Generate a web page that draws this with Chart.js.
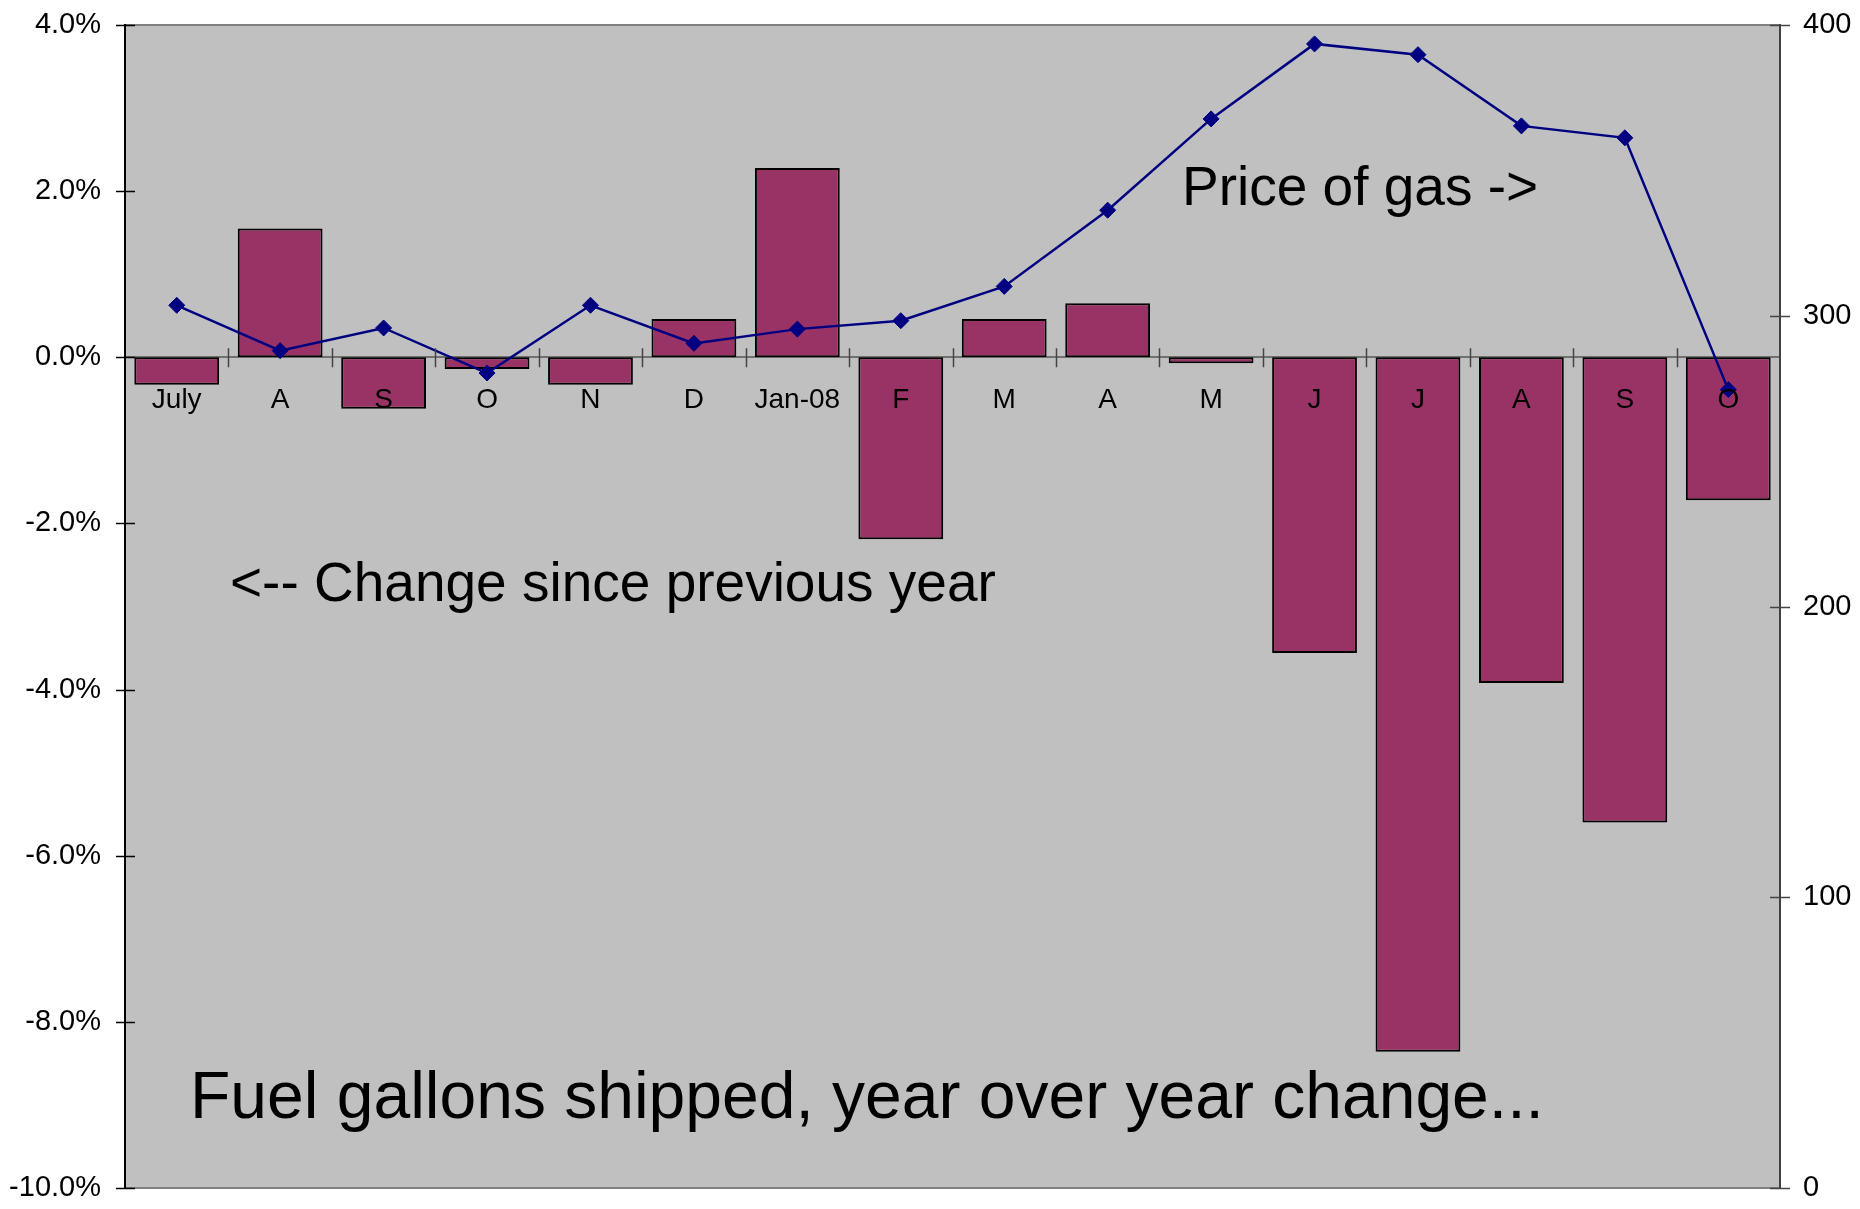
<!DOCTYPE html>
<html>
<head>
<meta charset="utf-8">
<script src="https://cdn.jsdelivr.net/npm/chart.js@4.4.1/dist/chart.umd.min.js"></script>
<style>
  html, body { margin: 0; padding: 0; background: #fff; }
</style>
</head>
<body>
<canvas id="chart" width="1860" height="1209"></canvas>
<script>
const months = ['July', 'A', 'S', 'O', 'N', 'D', 'Jan-08', 'F', 'M', 'A', 'M', 'J', 'J', 'A', 'S', 'O'];
const shipChange = [-0.33, 1.55, -0.62, -0.14, -0.33, 0.46, 2.28, -2.19, 0.46, 0.65, -0.06, -3.56, -8.36, -3.92, -5.6, -1.72];
const gasPrice = [303.6, 288, 295.8, 280.3, 303.6, 290.5, 295.4, 298.3, 310.1, 336.3, 367.7, 393.5, 389.8, 365.3, 361.2, 274.6];
const pctRange = [-10, 4, 2];     // min, max, step
const priceRange = [0, 400, 100];

const notes = [
  { text: 'Price of gas ->', x: 1182, y: 205, size: 55 },
  { text: '<-- Change since previous year', x: 230, y: 601, size: 55 },
  { text: 'Fuel gallons shipped, year over year change...', x: 190, y: 1118, size: 66 },
];

const FONT = '"Liberation Sans", Arial, Helvetica, sans-serif';

// grey plot area + top/bottom frame, drawn before the scales
const plotBg = {
  id: 'plotBg',
  beforeDraw(chart) {
    const { ctx, chartArea: a } = chart;
    ctx.save();
    ctx.fillStyle = '#c0c0c0';
    ctx.fillRect(a.left, a.top, a.right - a.left, a.bottom - a.top);
    ctx.strokeStyle = '#808080';
    ctx.lineWidth = 2;
    ctx.beginPath();
    ctx.moveTo(a.left, a.top); ctx.lineTo(a.right, a.top);
    ctx.moveTo(a.left, a.bottom); ctx.lineTo(a.right, a.bottom);
    ctx.stroke();
    ctx.restore();
  }
};

// tick marks that cross the axis lines, like the old spreadsheet charts
const crossTicks = {
  id: 'crossTicks',
  afterDraw(chart) {
    const { ctx, chartArea: a, scales } = chart;
    const y = scales.y, y1 = scales.y1, x = scales.x;
    ctx.save();
    ctx.lineWidth = 1.5;
    ctx.strokeStyle = '#000';
    ctx.beginPath();
    y.ticks.forEach(t => {
      const py = Math.round(y.getPixelForValue(t.value)) + 0.5;
      ctx.moveTo(a.left - 9, py); ctx.lineTo(a.left + 10, py);
    });
    ctx.stroke();
    ctx.strokeStyle = '#444';
    ctx.beginPath();
    y1.ticks.forEach(t => {
      const py = Math.round(y1.getPixelForValue(t.value)) + 0.5;
      ctx.moveTo(a.right - 10, py); ctx.lineTo(a.right + 10, py);
    });
    const y0 = y.getPixelForValue(0);
    for (let i = 1; i < months.length; i++) {
      const px = Math.round((x.getPixelForValue(i - 1) + x.getPixelForValue(i)) / 2) + 0.5;
      ctx.moveTo(px, y0 - 9); ctx.lineTo(px, y0 + 10);
    }
    ctx.stroke();
    ctx.restore();
  }
};

const textNotes = {
  id: 'textNotes',
  afterDatasetsDraw(chart) {
    const ctx = chart.ctx;
    ctx.save();
    ctx.fillStyle = '#000';
    ctx.textBaseline = 'alphabetic';
    ctx.textAlign = 'left';
    notes.forEach(n => {
      ctx.font = n.size + 'px ' + FONT;
      ctx.fillText(n.text, n.x, n.y);
    });
    ctx.restore();
  }
};

function noLabelPadding(s) {
  s.paddingTop = 0;
  s.paddingBottom = 0;
}

new Chart(document.getElementById('chart'), {
  data: {
    labels: months,
    datasets: [
      {
        type: 'line',
        label: 'Price of gas',
        data: gasPrice,
        yAxisID: 'y1',
        borderColor: '#000080',
        backgroundColor: '#000080',
        borderWidth: 2.5,
        pointStyle: 'rectRot',
        pointRadius: 8,
        pointBorderWidth: 1,
        tension: 0,
        order: 0
      },
      {
        type: 'bar',
        label: 'Change since previous year',
        data: shipChange,
        yAxisID: 'y',
        backgroundColor: '#993366',
        borderColor: '#000',
        borderWidth: 2,
        borderSkipped: false,
        minBarLength: 6,
        barPercentage: 0.82,
        categoryPercentage: 1,
        order: 1
      }
    ]
  },
  options: {
    responsive: false,
    animation: false,
    layout: { padding: { left: 0, right: 0, top: 25, bottom: 21 } },
    plugins: {
      legend: { display: false },
      tooltip: { enabled: false }
    },
    scales: {
      x: {
        position: { y: 0 },
        offset: true,
        grid: { display: false },
        border: { display: true, color: '#707070', width: 2 },
        ticks: {
          z: 1,
          color: '#000',
          font: { family: FONT, size: 28 },
          padding: 18,
          maxRotation: 0,
          autoSkip: false
        }
      },
      y: {
        position: 'left',
        min: pctRange[0],
        max: pctRange[1],
        grid: { display: false },
        border: { display: true, color: '#000', width: 2 },
        ticks: {
          stepSize: pctRange[2],
          color: '#000',
          padding: 16,
          font: { family: FONT, size: 29 },
          callback: v => v.toFixed(1) + '%'
        },
        afterFit: s => { s.width = 125; noLabelPadding(s); }
      },
      y1: {
        position: 'right',
        min: priceRange[0],
        max: priceRange[1],
        grid: { display: false },
        border: { display: true, color: '#404040', width: 2 },
        ticks: {
          stepSize: priceRange[2],
          color: '#000',
          padding: 15,
          font: { family: FONT, size: 29 }
        },
        afterFit: s => { s.width = 80; noLabelPadding(s); }
      }
    }
  },
  plugins: [plotBg, textNotes, crossTicks]
});
</script>
</body>
</html>
